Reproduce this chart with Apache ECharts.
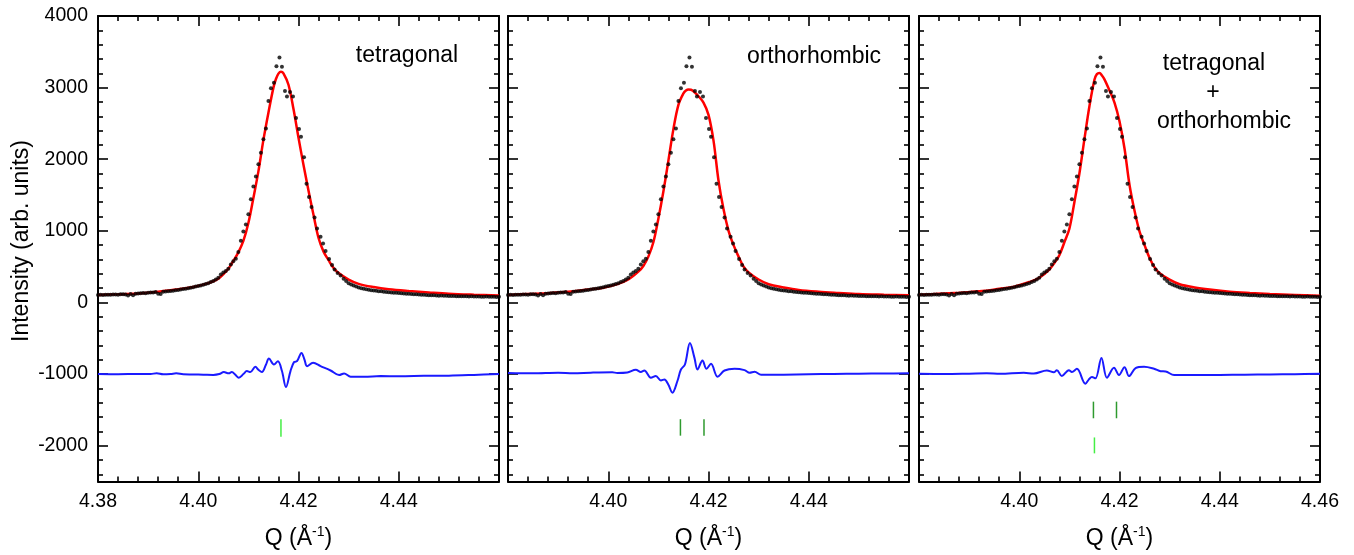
<!DOCTYPE html>
<html><head><meta charset="utf-8">
<script src="https://cdn.jsdelivr.net/npm/echarts@6/dist/echarts.min.js"></script>
<style>html,body{margin:0;padding:0;background:#fff}#chart{width:1354px;height:555px}</style>
</head><body><div id="chart"></div>
<script>
// ---------- DATA ----------
const obsQ = [4.3800,4.3805,4.3810,4.3815,4.3820,4.3825,4.3830,4.3835,4.3840,4.3845,4.3850,4.3855,4.3860,4.3865,4.3870,4.3875,4.3880,4.3885,4.3890,4.3895,
4.3900,4.3905,4.3910,4.3915,4.3920,4.3925,4.3930,4.3935,4.3940,4.3945,4.3950,4.3955,4.3960,4.3965,4.3970,4.3975,4.3980,4.3985,4.3990,4.3995,
4.4000,4.4005,4.4010,4.4015,4.4020,4.4025,4.4030,4.4035,4.4040,4.4045,4.4050,4.4055,4.4060,4.4065,4.4070,4.4075,4.4080,4.4085,4.4090,4.4095,
4.4100,4.4105,4.4110,4.4115,4.4120,4.4125,4.4130,4.4135,4.4140,4.4145,4.4151,4.4156,4.4162,4.4167,4.4173,4.4177,4.4183,4.4189,4.4195,4.4201,
4.4205,4.4211,4.4216,4.4221,4.4226,4.4232,4.4237,4.4244,4.4249,4.4254,4.4261,4.4267,4.4272,4.4278,4.4284,4.4290,4.4295,
4.4300,4.4305,4.4310,4.4315,4.4320,4.4325,4.4330,4.4335,4.4340,4.4345,4.4350,4.4355,4.4360,4.4365,4.4370,4.4375,4.4380,4.4385,4.4390,4.4395,
4.4400,4.4405,4.4410,4.4415,4.4420,4.4425,4.4430,4.4435,4.4440,4.4445,4.4450,4.4455,4.4460,4.4465,4.4470,4.4475,4.4480,4.4485,4.4490,4.4495,
4.4500,4.4505,4.4510,4.4515,4.4520,4.4525,4.4530,4.4535,4.4540,4.4545,4.4550,4.4555,4.4560,4.4565,4.4570,4.4575,4.4580,4.4585,4.4590,4.4595,4.4600];
const obsI = [104,106,103,107,109,106,110,112,108,113,115,111,98,117,99,120,124,127,131,128,
134,138,140,145,122,118,150,152,158,160,163,170,175,180,188,192,198,205,212,222,
230,238,248,258,270,285,300,322,345,390,420,440,470,530,575,610,705,860,990,1090,
1230,1440,1620,1760,1930,2090,2280,2430,2814,2990,3069,3300,3420,3292,2953,2875,2939,2875,2574,2421,
2314,2028,1657,1472,1333,1185,1032,917,824,717,606,522,462,412,375,330,300,
268,250,236,222,210,199,192,184,178,172,168,163,158,155,150,147,144,140,137,134,
131,128,126,122,120,118,115,113,110,108,107,104,102,100,99,97,95,96,93,92,
90,91,89,88,87,86,86,85,84,85,83,82,83,81,80,82,80,79,80,78,79];

const calcQ = [4.380,4.384,4.388,4.392,4.396,4.399,4.402,4.404,4.406,4.407,4.408,4.409,4.410,4.411,4.412,4.413,4.414,4.415,4.4155,4.416,
4.4165,4.417,4.418,4.419,4.420,4.421,4.422,4.423,4.424,4.425,4.426,4.427,4.428,4.430,4.432,4.435,4.438,4.442,4.446,4.450,4.455,4.460];
const calcTet  = [105,113,125,150,185,215,270,330,470,580,700,860,1110,1460,1830,2270,2650,3000,3120,3195,
3222,3200,3040,2700,2300,1920,1560,1220,900,710,590,480,410,320,260,215,185,160,140,122,108,97];
const calcOrth = [105,118,130,148,180,205,260,320,430,510,640,840,1170,1550,1980,2420,2760,2920,2960,2975,
2970,2950,2880,2790,2620,2260,1700,1300,1000,800,640,500,420,320,255,210,175,150,133,118,108,100];
const calcBoth = [106,120,135,155,190,220,285,345,460,550,660,840,1030,1400,1800,2280,2740,3110,3190,3205,
3170,3115,2960,2790,2530,2150,1640,1280,990,800,620,490,410,320,255,210,180,150,132,118,105,92];

const diffTetQ = [4.380,4.384,4.388,4.3905,4.3917,4.393,4.3945,4.3956,4.397,4.399,4.401,4.403,4.4042,4.4051,4.4061,4.4067,4.4074,4.4081,4.409,4.4097,
4.4104,4.4114,4.412,4.4127,4.4135,4.4141,4.4151,4.4159,4.4167,4.4175,4.4184,4.4191,4.4197,4.4206,4.4212,4.4217,4.4229,4.4244,4.4264,4.4281,
4.4291,4.4304,4.4331,4.4364,4.440,4.445,4.450,4.455,4.460];
const diffTetI = [-1000,-1002,-998,-1000,-988,-1002,-998,-990,-1003,-1005,-1008,-1012,-1000,-972,-990,-972,-1010,-1051,-1000,-958,
-972,-899,-940,-972,-870,-783,-866,-820,-958,-1181,-958,-833,-820,-704,-800,-889,-843,-889,-950,-1014,
-991,-1037,-1037,-1028,-1030,-1025,-1022,-1012,-1000];

const diffOrthQ = [4.380,4.385,4.390,4.393,4.3965,4.4008,4.4018,4.4038,4.4055,4.4065,4.4072,4.4085,4.4095,4.4105,4.4112,4.412,4.4128,4.4138,4.4145,4.4153,
4.4163,4.4172,4.4178,4.4188,4.4196,4.4205,4.4218,4.4232,4.4252,4.4272,4.4282,4.4292,4.4305,4.435,4.440,4.445,4.450,4.455,4.460];
const diffOrthI = [-985,-990,-982,-988,-980,-975,-985,-978,-940,-970,-950,-1051,-1028,-1088,-1074,-1150,-1260,-1097,-936,-866,
-565,-774,-936,-811,-927,-857,-1037,-950,-926,-945,-982,-968,-1010,-1008,-1003,-998,-995,-992,-988];

const diffBothQ = [4.380,4.385,4.390,4.3935,4.3962,4.4009,4.4029,4.4055,4.4069,4.4075,4.4085,4.4099,4.4105,4.4115,4.4132,4.4139,4.4145,4.4152,4.4164,4.4175,
4.4189,4.4199,4.4210,4.4219,4.4232,4.4249,4.4269,4.4282,4.4292,4.4309,4.4335,4.4362,4.440,4.445,4.450,4.455,4.460];
const diffBothI = [-996,-998,-994,-990,-996,-982,-992,-950,-975,-945,-1028,-945,-970,-926,-1135,-1074,-1042,-1060,-774,-1051,
-912,-1014,-903,-1028,-917,-898,-926,-960,-964,-1014,-1014,-1014,-1012,-1008,-1005,-1002,-996];

// Bragg reflection positions (Q) and the intensity band each row of marks spans
const braggTet      = [4.4165];
const braggOrth     = [4.4144, 4.4191];
const braggBothOrth = [4.4148, 4.4194];
const braggBothTet  = [4.4150];
const rowTetP1  = [-1630, -1875];
const rowOrthP2 = [-1630, -1860];
const rowOrthP3 = [-1385, -1617];
const rowTetP3  = [-1885, -2107];

const yLabelValues = [-2000,-1000,0,1000,2000,3000,4000];
const yMinorValues = [-2400,-2200,-1800,-1600,-1400,-1200,-800,-600,-400,-200,200,400,600,800,1200,1400,1600,1800,2200,2400,2600,2800,3200,3400,3600,3800];
const panelNotes = [['tetragonal'], ['orthorhombic'], ['tetragonal', '+', 'orthorhombic']];
const yTitle = 'Intensity (arb. units)';

// ---------- CHART ----------
const FONT = '"Liberation Sans", Arial, sans-serif';
const pairs = (xs, ys) => xs.map((x, i) => [x, ys[i]]);
const grids = [
  {left: 98, top: 16, width: 401, height: 468},
  {left: 508, top: 16, width: 401, height: 468},
  {left: 919, top: 16, width: 401, height: 468}
];
const axisLine = {show: true, onZero: false, lineStyle: {color: '#000', width: 2}};
const tickStyle = {color: '#000', width: 1.6};
const xAxes = [], yAxes = [], series = [];
const labelRules = [[true, false], [false, false], [false, true]];

grids.forEach((g, p) => {
  ['bottom', 'top'].forEach(pos => {
    xAxes.push({
      type: 'value', gridIndex: p, position: pos, min: 4.38, max: 4.46, interval: 0.02,
      axisLine, splitLine: {show: false},
      axisTick: {show: true, inside: true, length: 10, lineStyle: tickStyle},
      minorTick: {show: true, splitNumber: 5, length: 5, lineStyle: tickStyle},
      axisLabel: pos === 'bottom' ? {
        show: true, formatter: v => v.toFixed(2), showMinLabel: labelRules[p][0], showMaxLabel: labelRules[p][1],
        fontSize: 19.5, color: '#000', fontFamily: FONT, margin: 10
      } : {show: false},
      name: pos === 'bottom' ? 'Q (Å{sup|-1})' : '', nameLocation: 'middle', nameGap: 44,
      nameTextStyle: {fontSize: 23, color: '#000', fontFamily: FONT,
        rich: {sup: {fontSize: 14, color: '#000', fontFamily: FONT, padding: [0, 0, 12, 0]}}}
    });
  });
  ['left', 'right'].forEach(pos => {
    yAxes.push({
      type: 'value', gridIndex: p, position: pos, min: -2500, max: 4000, interval: 500,
      axisLine, splitLine: {show: false},
      axisTick: {show: true, inside: true, length: 10, lineStyle: tickStyle, customValues: yLabelValues},
      axisLabel: (pos === 'left' && p === 0) ? {show: true, customValues: yLabelValues, formatter: v => String(v),
        fontSize: 19.5, color: '#000', fontFamily: FONT, margin: 10} : {show: false}
    });
    yAxes.push({
      type: 'value', gridIndex: p, position: pos, min: -2500, max: 4000, interval: 500,
      axisLine: {show: false}, splitLine: {show: false}, axisLabel: {show: false},
      axisTick: {show: true, inside: true, length: 5, lineStyle: tickStyle, customValues: yMinorValues}
    });
  });
});

const calcs = [calcTet, calcOrth, calcBoth];
const diffs = [[diffTetQ, diffTetI], [diffOrthQ, diffOrthI], [diffBothQ, diffBothI]];
const bragg = [
  [[braggTet, rowTetP1, '#44ee44']],
  [[braggOrth, rowOrthP2, '#2e9a2e']],
  [[braggBothOrth, rowOrthP3, '#2e9a2e'], [braggBothTet, rowTetP3, '#44ee44']]
];

for (let p = 0; p < 3; p++) {
  const xi = 2 * p, yi = 4 * p;
  series.push({
    type: 'line', xAxisIndex: xi, yAxisIndex: yi, data: pairs(diffs[p][0], diffs[p][1]),
    showSymbol: false, smooth: 0.35, lineStyle: {color: '#1a1aff', width: 2}, z: 2, silent: true
  });
  series.push({
    type: 'line', xAxisIndex: xi, yAxisIndex: yi, data: pairs(calcQ, calcs[p]),
    showSymbol: false, smooth: 0.35, lineStyle: {color: '#ff0000', width: 2.5}, z: 3, silent: true
  });
  series.push({
    type: 'scatter', xAxisIndex: xi, yAxisIndex: yi, data: pairs(obsQ, obsI),
    symbol: 'circle', symbolSize: 4, itemStyle: {color: '#000'}, z: 4, silent: true
  });
  bragg[p].forEach(([qs, row, color]) => {
    series.push({
      type: 'custom', xAxisIndex: xi, yAxisIndex: yi, silent: true, z: 5,
      data: qs.map(q => [q, row[0], row[1]]),
      encode: {x: 0, y: [1, 2]},
      renderItem: (params, api) => {
        const a = api.coord([api.value(0), api.value(1)]);
        const b = api.coord([api.value(0), api.value(2)]);
        return {type: 'line', shape: {x1: a[0], y1: a[1], x2: b[0], y2: b[1]}, style: {stroke: color, lineWidth: 1.5}};
      }
    });
  });
}

const noteStyle = (text, x, y) => ({type: 'text', x, y, style: {text, fontSize: 23, fill: '#000', fontFamily: FONT, textAlign: 'center', textVerticalAlign: 'middle'}});
const graphic = [
  {type: 'text', x: 22, y: 241, rotation: Math.PI / 2,
   style: {text: yTitle, fontSize: 23, fill: '#000', fontFamily: FONT, textAlign: 'center', textVerticalAlign: 'middle'}},
  noteStyle(panelNotes[0][0], 407, 56),
  noteStyle(panelNotes[1][0], 814, 57),
  noteStyle(panelNotes[2][0], 1214, 64),
  noteStyle(panelNotes[2][1], 1213, 93),
  noteStyle(panelNotes[2][2], 1224, 122)
];

const chart = echarts.init(document.getElementById('chart'), null, {renderer: 'canvas'});
chart.setOption({
  animation: false, backgroundColor: '#fff',
  grid: grids, xAxis: xAxes, yAxis: yAxes, series, graphic
});
</script></body></html>
